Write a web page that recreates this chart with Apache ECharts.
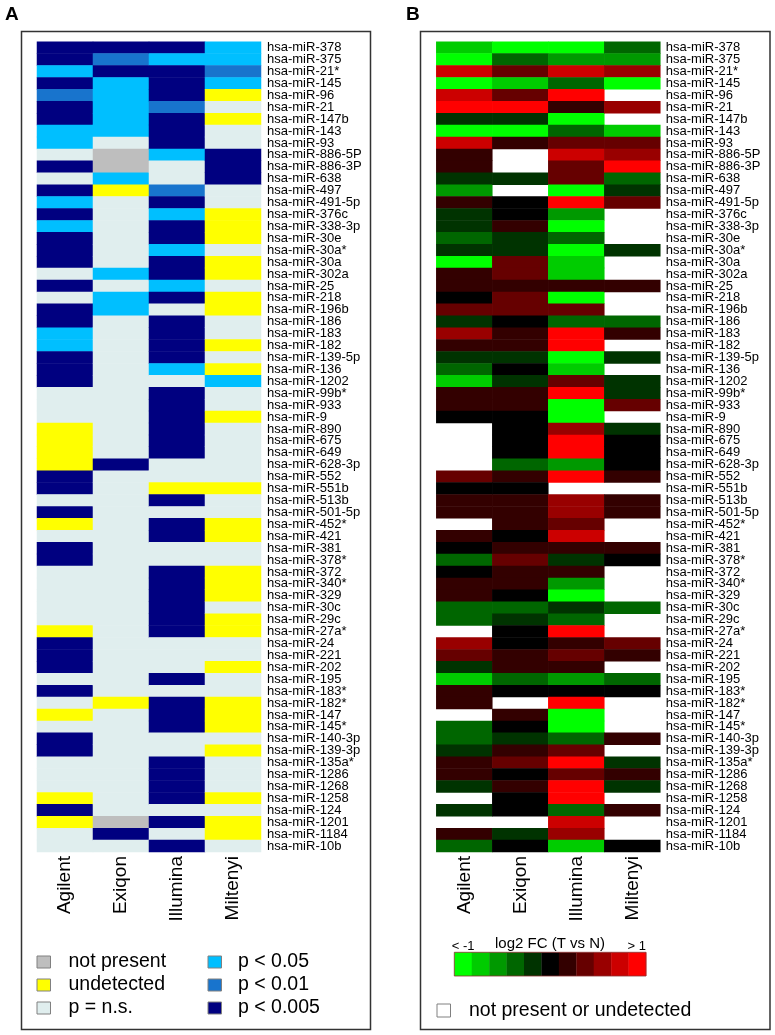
<!DOCTYPE html>
<html>
<head>
<meta charset="utf-8">
<script src="https://cdn.jsdelivr.net/npm/echarts@6/dist/echarts.min.js"></script>
<style>
html,body{margin:0;padding:0;background:#fff;}
#chart{width:775px;height:1035px;}
</style>
</head>
<body>
<div id="chart"></div>
<script>
// ---------- DATA ----------
const platforms = ['Agilent', 'Exiqon', 'Illumina', 'Miltenyi'];
const mirnas = ['hsa-miR-378','hsa-miR-375','hsa-miR-21*','hsa-miR-145','hsa-miR-96','hsa-miR-21','hsa-miR-147b','hsa-miR-143','hsa-miR-93','hsa-miR-886-5P',
  'hsa-miR-886-3P','hsa-miR-638','hsa-miR-497','hsa-miR-491-5p','hsa-miR-376c','hsa-miR-338-3p','hsa-miR-30e','hsa-miR-30a*','hsa-miR-30a','hsa-miR-302a',
  'hsa-miR-25','hsa-miR-218','hsa-miR-196b','hsa-miR-186','hsa-miR-183','hsa-miR-182','hsa-miR-139-5p','hsa-miR-136','hsa-miR-1202','hsa-miR-99b*',
  'hsa-miR-933','hsa-miR-9','hsa-miR-890','hsa-miR-675','hsa-miR-649','hsa-miR-628-3p','hsa-miR-552','hsa-miR-551b','hsa-miR-513b','hsa-miR-501-5p',
  'hsa-miR-452*','hsa-miR-421','hsa-miR-381','hsa-miR-378*','hsa-miR-372','hsa-miR-340*','hsa-miR-329','hsa-miR-30c','hsa-miR-29c','hsa-miR-27a*',
  'hsa-miR-24','hsa-miR-221','hsa-miR-202','hsa-miR-195','hsa-miR-183*','hsa-miR-182*','hsa-miR-147','hsa-miR-145*','hsa-miR-140-3p','hsa-miR-139-3p',
  'hsa-miR-135a*','hsa-miR-1286','hsa-miR-1268','hsa-miR-1258','hsa-miR-124','hsa-miR-1201','hsa-miR-1184','hsa-miR-10b'];

// Panel A status codes: G = not present, Y = undetected, S = p n.s., L = p<0.05, M = p<0.01, N = p<0.005
const statusAgilent = ['N','N','L','N','M','N','N','L','L','S', 'N','S','N','L','N','L','N','N','N','S',
  'N','S','N','N','L','L','N','N','N','S', 'S','S','Y','Y','Y','Y','N','N','S','N',
  'Y','S','N','N','S','S','S','S','S','Y', 'N','N','N','S','N','S','Y','S','N','N',
  'S','S','S','Y','N','Y','S','S'];
const statusExiqon = ['N','M','N','L','L','L','L','L','S','G', 'G','L','Y','S','S','S','S','S','S','L',
  'S','L','L','S','S','S','S','S','S','S', 'S','S','S','S','S','N','S','S','S','S',
  'S','S','S','S','S','S','S','S','S','S', 'S','S','S','S','S','Y','S','S','S','S',
  'S','S','S','S','S','G','N','S'];
const statusIllumina = ['N','L','N','N','N','M','N','N','N','L', 'S','S','M','N','L','N','N','L','N','N',
  'L','N','S','N','N','N','N','L','S','N', 'N','N','N','N','N','S','S','Y','N','S',
  'N','N','S','S','N','N','N','N','N','N', 'S','S','S','N','S','N','N','N','S','S',
  'N','N','N','N','S','N','S','N'];
const statusMiltenyi = ['L','L','M','L','Y','S','Y','S','S','N', 'N','N','S','S','Y','Y','Y','S','Y','Y',
  'S','Y','Y','S','S','Y','S','Y','L','S', 'S','Y','S','S','S','S','S','Y','S','S',
  'Y','Y','S','S','Y','Y','Y','S','Y','Y', 'S','S','Y','S','S','Y','Y','Y','S','Y',
  'S','S','S','Y','S','Y','Y','S'];
const statusCodes = ['G','Y','S','L','M','N'];
const statusLabels = ['not present','undetected','p = n.s.','p < 0.05','p < 0.01','p < 0.005'];

// Panel B binned log2 FC (T vs N); null = not present or undetected
const fcAgilent = [-0.8,-1,0.8,-1,0.8,1,-0.2,-1,0.8,0.2, 0.2,-0.2,-0.6,0.2,-0.2,-0.2,-0.4,-0.2,-1,0.2,
  0.2,0,0.4,-0.2,0.6,0.2,-0.2,-0.4,-0.8,0.2, 0.2,0,null,null,null,null,0.4,0,0.2,0.2,
  null,0.2,0,-0.4,0,0.2,0.2,-0.4,-0.4,null, 0.6,0.4,-0.2,-0.8,0.2,0.2,null,-0.4,-0.4,-0.2,
  0.2,0.2,-0.2,null,-0.2,null,0.2,-0.4];
const fcExiqon = [-1,-0.4,0.4,-0.8,0.4,1,-0.2,-1,0.2,null, null,-0.2,null,0,0,0.2,-0.2,-0.2,0.4,0.4,
  0.2,0.4,0.4,0,0.2,0.2,-0.2,0,-0.2,0.2, 0.2,0,0,0,0,-0.4,0.2,0,0.2,0.2,
  0.2,0,0.2,0.4,0.2,0.2,0,-0.4,-0.2,0, 0,0.2,0.2,-0.4,0,null,0.2,0,-0.2,0.2,
  0.4,0,0.2,0,0,null,-0.2,0];
const fcIllumina = [-1,-0.6,0.8,-0.4,1,0.2,-1,-0.4,0.4,0.8, 0.4,0.4,-1,1,-0.6,-1,-0.4,-1,-0.8,-0.8,
  0.2,-1,0.4,-0.4,1,1,-1,-0.8,0.4,1, -1,-1,0.6,1,1,-0.6,1,null,0.6,0.6,
  0.4,0.8,0.2,-0.2,0.2,-0.6,-1,-0.2,-0.4,1, 0.2,0.4,0.2,-0.6,0,1,-1,-1,-0.4,0.4,
  1,0.4,1,1,-0.4,0.8,0.6,-0.8];
const fcMiltenyi = [-0.4,-0.6,0.6,-1,null,0.6,null,-0.8,0.4,0.6, 1,-0.4,-0.2,0.4,null,null,null,-0.2,null,null,
  0.2,null,null,-0.4,0.2,null,-0.2,null,-0.2,-0.2, 0.4,null,-0.2,0,0,0,0.2,null,0.2,0.2,
  null,null,0.2,0,null,null,null,-0.4,null,null, 0.4,0.2,null,-0.4,0,null,null,null,0.2,null,
  -0.2,0.2,-0.2,null,0.2,null,null,0];
const fcBins = [-1,-0.8,-0.6,-0.4,-0.2,0,0.2,0.4,0.6,0.8,1];

// ---------- STYLE ----------
const FONT = "'Liberation Sans', Arial, Helvetica, sans-serif";
const statusColors = ['#BEBEBE','#FFFF00','#E0EEEE','#00BFFF','#1874CD','#000080'];
const fcColors = ['#00FF00','#00CC00','#009900','#006600','#003300','#000000','#330000','#660000','#990000','#CC0000','#FF0000'];

const statusCols = [statusAgilent, statusExiqon, statusIllumina, statusMiltenyi];
const fcCols = [fcAgilent, fcExiqon, fcIllumina, fcMiltenyi];
const dataA = [], dataB = [];
statusCols.forEach((col, x) => col.forEach((c, y) => dataA.push([x, y, statusCodes.indexOf(c)])));
fcCols.forEach((col, x) => col.forEach((v, y) => dataB.push([x, y, v === null ? '-' : v])));

const GRID_TOP = 41.7, GRID_H = 810.3;
function xAxisFor(i) {
  return {
    type: 'category', gridIndex: i, data: platforms, position: 'bottom',
    axisLine: {show: false}, axisTick: {show: false}, splitLine: {show: false},
    axisLabel: {rotate: 90, margin: 4, fontSize: 19, color: '#000', fontFamily: FONT, interval: 0}
  };
}
function yAxisFor(i, margin) {
  return {
    type: 'category', gridIndex: i, data: mirnas, inverse: true, position: 'right',
    axisLine: {show: false}, axisTick: {show: false}, splitLine: {show: false},
    axisLabel: {margin: margin, fontSize: 13, color: '#000', fontFamily: FONT, interval: 0}
  };
}

const graphics = [];
// panel frames
graphics.push({type: 'rect', shape: {x: 21.5, y: 31.5, width: 349, height: 998}, style: {fill: 'none', stroke: '#333', lineWidth: 1.5}, z: 10});
graphics.push({type: 'rect', shape: {x: 420.5, y: 31.5, width: 349.5, height: 998}, style: {fill: 'none', stroke: '#333', lineWidth: 1.5}, z: 10});
// panel letters
graphics.push({type: 'text', x: 5, y: 5, style: {text: 'A', font: "bold 19px " + FONT, fill: '#000'}});
graphics.push({type: 'text', x: 406, y: 5, style: {text: 'B', font: "bold 19px " + FONT, fill: '#000'}});

// legend A
const legRowsY = [962, 985, 1008];
statusLabels.forEach((lab, i) => {
  const col = i < 3 ? 0 : 1;
  const row = i % 3;
  const sx = col === 0 ? 37 : 208;
  const tx = col === 0 ? 68.5 : 238;
  const colorIdx = i;
  graphics.push({type: 'rect', shape: {x: sx, y: legRowsY[row] - 6, width: 13.5, height: 12},
    style: {fill: statusColors[colorIdx], stroke: '#808080', lineWidth: 1}});
  graphics.push({type: 'text', x: tx, y: legRowsY[row], style: {text: lab, font: "19.5px " + FONT, fill: '#000', textVerticalAlign: 'middle', verticalAlign: 'middle'}});
});

// legend B colour bar
const barX = 454.3, barW = (646 - 454.3) / fcColors.length;
fcColors.forEach((c, i) => {
  graphics.push({type: 'rect', shape: {x: barX + i * barW, y: 952.3, width: barW + 0.3, height: 23.7}, style: {fill: c}});
});
graphics.push({type: 'rect', shape: {x: barX, y: 952.3, width: 646 - barX, height: 23.7}, style: {fill: 'none', stroke: '#8a3030', lineWidth: 0.8}});
graphics.push({type: 'text', x: 451.7, y: 946, style: {text: '< -1', font: "13px " + FONT, fill: '#000', verticalAlign: 'middle', textVerticalAlign: 'middle'}});
graphics.push({type: 'text', x: 550, y: 943.5, style: {text: 'log2 FC (T vs N)', font: "15px " + FONT, fill: '#000', align: 'center', textAlign: 'center', verticalAlign: 'middle', textVerticalAlign: 'middle'}});
graphics.push({type: 'text', x: 646, y: 946, style: {text: '> 1', font: "13px " + FONT, fill: '#000', align: 'right', textAlign: 'right', verticalAlign: 'middle', textVerticalAlign: 'middle'}});
graphics.push({type: 'rect', shape: {x: 437, y: 1004, width: 13.5, height: 13}, style: {fill: '#fff', stroke: '#808080', lineWidth: 1}});
graphics.push({type: 'text', x: 469, y: 1010.7, style: {text: 'not present or undetected', font: "19.5px " + FONT, fill: '#000', verticalAlign: 'middle', textVerticalAlign: 'middle'}});

const chart = echarts.init(document.getElementById('chart'), null, {renderer: 'canvas'});
chart.setOption({
  backgroundColor: '#fff',
  animation: false,
  grid: [
    {left: 37, top: GRID_TOP, width: 224, height: GRID_H},
    {left: 436.3, top: GRID_TOP, width: 224, height: GRID_H}
  ],
  xAxis: [xAxisFor(0), xAxisFor(1)],
  yAxis: [yAxisFor(0, 6), yAxisFor(1, 5.5)],
  visualMap: [
    {type: 'piecewise', show: false, seriesIndex: 0, dimension: 2,
      pieces: statusCodes.map((c, i) => ({value: i, color: statusColors[i]}))},
    {type: 'piecewise', show: false, seriesIndex: 1, dimension: 2,
      pieces: fcBins.map((b, i) => ({gt: b - 0.1, lte: b + 0.1, color: fcColors[i]}))}
  ],
  series: [
    {type: 'heatmap', xAxisIndex: 0, yAxisIndex: 0, data: dataA, itemStyle: {borderWidth: 0}, emphasis: {disabled: true}, progressive: 0},
    {type: 'heatmap', xAxisIndex: 1, yAxisIndex: 1, data: dataB, itemStyle: {borderWidth: 0}, emphasis: {disabled: true}, progressive: 0}
  ],
  graphic: graphics
});
</script>
</body>
</html>
